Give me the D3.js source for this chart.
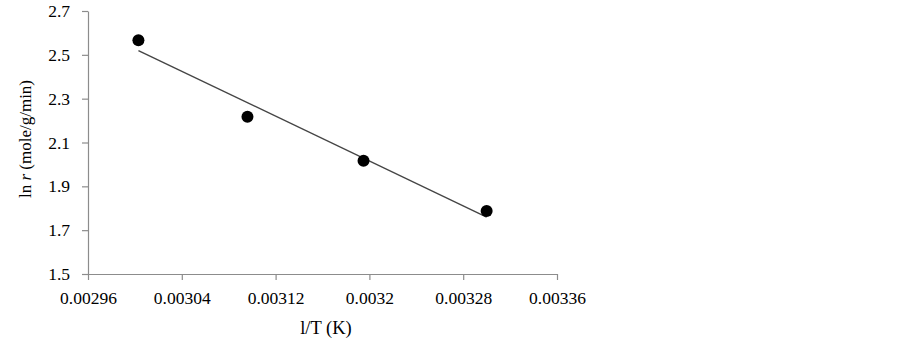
<!DOCTYPE html>
<html lang="en">
<head>
    <meta charset="UTF-8">
    <script src="https://cdn.jsdelivr.net/npm/d3@7"></script>
    <style>
        body { margin: 0; background: #fff; }
        svg text { font-family: "Liberation Serif", "Times New Roman", serif; fill: #000; }
    </style>
</head>
<body>
<div id="fig"></div>
<script>
    // 1/T (K^-1) and ln r
    const invT = [0.003003, 0.003096, 0.003195, 0.0033];
    const lnR = [2.567, 2.218, 2.017, 1.787];
    const xTicks = [0.00296, 0.00304, 0.00312, 0.0032, 0.00328, 0.00336];
    const yTicks = [1.5, 1.7, 1.9, 2.1, 2.3, 2.5, 2.7];

    const width = 902, height = 341;
    const axisColor = "#8c8c8c";

    const svg = d3.select("#fig")
        .append("svg")
        .attr("width", width)
        .attr("height", height);

    const x = d3.scaleLinear().domain([0.00296, 0.00336]).range([88, 557]);
    const y = d3.scaleLinear().domain([1.5, 2.7]).range([274, 11]);

    // x axis
    const gx = svg.append("g")
        .attr("transform", `translate(0,${y(1.5)})`)
        .call(d3.axisBottom(x)
            .tickValues(xTicks)
            .tickFormat(d => +d.toFixed(5))
            .tickSize(6)
            .tickSizeOuter(0)
            .tickPadding(12));
    // y axis
    const gy = svg.append("g")
        .attr("transform", `translate(${x(0.00296)},0)`)
        .call(d3.axisLeft(y)
            .tickValues(yTicks)
            .tickFormat(d3.format(".1f"))
            .tickSize(6)
            .tickSizeOuter(0)
            .tickPadding(12));

    [gx, gy].forEach(g => {
        g.attr("font-family", null);
        g.select(".domain").attr("stroke", axisColor).attr("stroke-width", 1.2);
        g.selectAll(".tick line").attr("stroke", axisColor).attr("stroke-width", 1.2);
        g.selectAll(".tick text")
            .attr("font-size", 17.5)
            .attr("fill", "#000");
    });

    // least squares trend line
    const mx = d3.mean(invT), my = d3.mean(lnR);
    let sxy = 0, sxx = 0;
    invT.forEach((v, i) => { sxy += (v - mx) * (lnR[i] - my); sxx += (v - mx) * (v - mx); });
    const slope = sxy / sxx, icpt = my - slope * mx;
    const ends = d3.extent(invT);

    svg.append("line")
        .attr("x1", x(ends[0])).attr("y1", y(icpt + slope * ends[0]))
        .attr("x2", x(ends[1])).attr("y2", y(icpt + slope * ends[1]))
        .attr("stroke", "#454545")
        .attr("stroke-width", 1.4);

    svg.selectAll(".pt")
        .data(invT)
        .enter()
        .append("circle")
        .attr("class", "pt")
        .attr("cx", d => x(d))
        .attr("cy", (d, i) => y(lnR[i]))
        .attr("r", 6)
        .attr("fill", "#000");

    // axis titles
    svg.append("text")
        .attr("x", 326)
        .attr("y", 334)
        .attr("text-anchor", "middle")
        .attr("font-size", 18.5)
        .text("l/T (K)");

    const yl = svg.append("text")
        .attr("transform", "translate(31,139) rotate(-90)")
        .attr("text-anchor", "middle")
        .attr("font-size", 17);
    yl.append("tspan").text("ln ");
    yl.append("tspan").attr("font-style", "italic").text("r");
    yl.append("tspan").text(" (mole/g/min)");
</script>
</body>
</html>
